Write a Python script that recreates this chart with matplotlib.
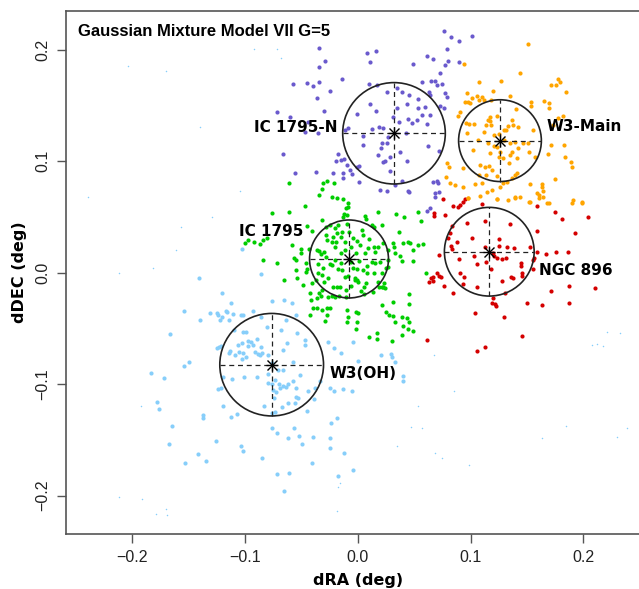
import numpy as np
import matplotlib
matplotlib.use("Agg")
import matplotlib.pyplot as plt
from matplotlib.patches import Ellipse

# ---------------- data ----------------
purple_pts = [(0.0767,0.2173),(0.0827,0.2119),(0.0900,0.2084),(0.1010,0.2128),(0.0789,0.2012),(0.0084,0.1970),(0.0164,0.1991),(0.0108,0.1892),(-0.0288,0.1901),(0.0492,0.1872),(0.0616,0.1946),(0.0670,0.1922),(0.0797,0.1901),(0.0773,0.1863),(0.0898,0.1895),(0.0732,0.1796),(-0.0143,0.1740),(0.0572,0.1710),(0.0649,0.1722),(0.0685,0.1722),(0.0700,0.1683),(0.0744,0.1695),(0.0102,0.1692),(0.0168,0.1686),(0.0350,0.1656),(-0.0247,0.1632),(0.0634,0.1626),(0.0640,0.1596),(0.0773,0.1611),(0.0789,0.1575),(0.0256,0.1623),(0.0389,0.1623),(0.0457,0.1596),(0.0531,0.1563),(-0.0010,0.1423),(0.0108,0.1518),(0.0159,0.1452),(0.0350,0.1479),(0.0434,0.1513),(-0.0300,0.1455),(0.0537,0.1477),(0.0596,0.1486),(0.0572,0.1417),(0.0640,0.1417),(0.0478,0.1347),(0.0443,0.1381),(0.0522,0.1372),(0.0611,0.1333),(0.0729,0.1497),(0.0767,0.1477),(-0.0084,0.1297),(-0.0114,0.1282),(0.0123,0.1291),(0.0191,0.1312),(0.0221,0.1297),(0.0368,0.1356),(0.0315,0.1401),(0.0428,0.1252),(0.0049,0.1228),(0.0271,0.1222),(0.0212,0.1168),(0.0262,0.1163),(0.0206,0.1118),(0.0374,0.1087),(0.0286,0.1042),(0.0182,0.1057),(0.0439,0.1004),(0.0241,0.1006),(0.0226,0.0992),(0.0049,0.1147),(0.0625,0.1138),(0.0720,0.1093),(-0.0178,0.1066),(-0.0152,0.1013),(-0.0120,0.1019),(-0.0193,0.1004),(-0.0010,0.0952),(0.0013,0.0959),(-0.0098,0.0968),(-0.0069,0.0923),(-0.0129,0.0893),(-0.0217,0.0899),(-0.0054,0.0884),(0.0286,0.0917),(0.0013,0.0812),(0.0389,0.0824),(0.0256,0.0734),(0.0448,0.0734),(0.0700,0.0824),(0.0714,0.0803),(0.0670,0.0818),(0.0685,0.0714),(0.0723,0.0728),(-0.0347,0.2018),(-0.0341,0.1850),(-0.0572,0.1695),(-0.0448,0.1704),(-0.0400,0.1677),(-0.0341,0.1716),(-0.0365,0.1572),(-0.0719,0.1446),(-0.0599,0.1401),(-0.0439,0.1356),(-0.0468,0.1264),(-0.0350,0.1252),(-0.0661,0.1066),(-0.0554,0.0899),(-0.0371,0.0902),(-0.0134,0.0854),(0.0197,0.0743),(0.0330,0.0788),(0.0611,0.0555),(0.0454,0.0728),(0.0685,0.0683),(0.0640,0.0579)]

orange_pts = [(0.1507,0.2054),(0.1439,0.1790),(0.1078,0.1715),(0.1268,0.1721),(0.1197,0.1632),(0.1350,0.1587),(0.0945,0.1874),(0.1779,0.1736),(0.1794,0.1715),(0.1755,0.1686),(0.1714,0.1686),(0.1844,0.1620),(0.0966,0.1611),(0.0951,0.1536),(0.0981,0.1536),(0.1010,0.1566),(0.0996,0.1521),(0.1061,0.1587),(0.1099,0.1575),(0.1078,0.1551),(0.1120,0.1551),(0.1182,0.1551),(0.1537,0.1536),(0.1537,0.1497),(0.1652,0.1542),(0.1696,0.1521),(0.1696,0.1476),(0.1404,0.1467),(0.1232,0.1407),(0.1173,0.1401),(0.1152,0.1371),(0.1173,0.1362),(0.1182,0.1327),(0.1137,0.1327),(0.1336,0.1318),(0.0907,0.1446),(0.0886,0.1410),(0.0960,0.1341),(0.0990,0.1332),(0.1034,0.1332),(0.1380,0.1327),(0.1424,0.1312),(0.1365,0.1371),(0.1315,0.1282),(0.1557,0.1282),(0.1818,0.1410),(0.1779,0.1386),(0.1729,0.1327),(0.0966,0.1252),(0.1123,0.1267),(0.1208,0.1237),(0.1256,0.1243),(0.1300,0.1282),(0.1300,0.1192),(0.1069,0.1192),(0.1158,0.1168),(0.1208,0.1138),(0.1173,0.1072),(0.1238,0.1132),(0.1262,0.1087),(0.1350,0.1168),(0.1395,0.1177),(0.1424,0.1117),(0.1365,0.1087),(0.1469,0.1168),(0.1513,0.1168),(0.1350,0.1057),(0.1410,0.1027),(0.1522,0.1087),(0.1572,0.1042),(0.1714,0.1147),(0.1832,0.1147),(0.1838,0.1042),(0.1892,0.0991),(0.1903,0.0952),(0.1685,0.1066),(0.1256,0.1042),(0.1285,0.1027),(0.1345,0.0982),(0.1025,0.1102),(0.1084,0.0967),(0.1129,0.0952),(0.1167,0.0961),(0.1188,0.0923),(0.1137,0.0878),(0.1078,0.0878),(0.1238,0.0872),(0.1410,0.0893),(0.1395,0.0878),(0.1365,0.0848),(0.1291,0.0803),(0.0936,0.0937),(0.0789,0.0982),(0.0812,0.0952),(0.0783,0.0863),(0.0818,0.0803),(0.0862,0.0788),(0.0936,0.0773),(0.1040,0.0794),(0.1099,0.0803),(0.1143,0.0728),(0.1188,0.0743),(0.1262,0.0773),(0.1321,0.0818),(0.1232,0.0662),(0.1336,0.0653),(0.1395,0.0668),(0.1439,0.0683),(0.1528,0.0797),(0.1631,0.0797),(0.1637,0.0767),(0.1646,0.0737),(0.1587,0.0713),(0.1608,0.0668),(0.1646,0.0683),(0.1676,0.0623),(0.1750,0.0839),(0.1906,0.0653),(0.1992,0.0632),(0.1528,0.0638),(0.0981,0.0674),(0.1521,0.0633),(0.1699,0.0624),(0.1897,0.0629),(0.1986,0.0629),(0.0980,0.0669),(0.1084,0.0689),(0.1232,0.0660),(0.1394,0.0678),(0.1610,0.0700)]

red_pts = [(0.0758,0.0659),(0.0841,0.0599),(0.0891,0.0587),(0.0906,0.0608),(0.0936,0.0638),(0.0951,0.0659),(0.1098,0.0617),(0.0676,0.0540),(0.0679,0.0510),(0.0773,0.0519),(0.0965,0.0444),(0.1128,0.0468),(0.1350,0.0438),(0.0832,0.0420),(0.1586,0.0599),(0.1749,0.0549),(0.1808,0.0480),(0.2045,0.0504),(0.1926,0.0354),(0.1592,0.0378),(0.1010,0.0315),(0.0883,0.0279),(0.0818,0.0354),(0.0803,0.0309),(0.0823,0.0240),(0.0832,0.0210),(0.0723,0.0160),(0.0900,0.0124),(0.1030,0.0151),(0.1060,0.0079),(0.1137,0.0100),(0.1128,0.0234),(0.1196,0.0180),(0.1252,0.0300),(0.1255,0.0240),(0.1326,0.0234),(0.1385,0.0219),(0.1527,0.0228),(0.1208,0.0151),(0.1237,0.0130),(0.1282,0.0124),(0.1314,0.0130),(0.1184,0.0031),(0.1444,0.0085),(0.1447,0.0061),(0.1551,0.0115),(0.1566,0.0130),(0.1586,0.0189),(0.1669,0.0169),(0.1755,0.0183),(0.1861,0.0183),(0.1557,0.0031),(0.0906,-0.0005),(0.0945,-0.0041),(0.0767,-0.0116),(0.0847,-0.0179),(0.0936,-0.0101),(0.1060,-0.0125),(0.1276,-0.0074),(0.1356,-0.0035),(0.1379,-0.0050),(0.1453,-0.0005),(0.1459,-0.0026),(0.0705,-0.0005),(0.0723,-0.0029),(0.0735,-0.0041),(0.0670,-0.0041),(0.0646,-0.0050),(0.0634,-0.0080),(0.0664,-0.0074),(0.1714,-0.0164),(0.1876,-0.0116),(0.2104,-0.0140),(0.1202,-0.0229),(0.1187,-0.0274),(0.1217,-0.0280),(0.1226,-0.0298),(0.1305,-0.0179),(0.1498,-0.0268),(0.1631,-0.0289),(0.1873,-0.0268),(0.1039,-0.0358),(0.1300,-0.0400),(0.1453,-0.0565),(0.1128,-0.0669),(0.1054,-0.0699),(0.0611,-0.0603)]

green_pts = [(-0.0341,0.0698),(-0.0225,0.0677),(-0.0181,0.0668),(-0.0128,0.0659),(-0.0089,0.0629),(-0.0104,0.0578),(-0.0084,0.0587),(-0.0122,0.0528),(-0.0098,0.0519),(-0.0134,0.0504),(-0.0468,0.0599),(-0.0758,0.0540),(-0.0610,0.0543),(0.0064,0.0510),(0.0073,0.0480),(0.0183,0.0548),(0.0336,0.0528),(0.0413,0.0504),(0.0532,0.0548),(-0.0320,0.0474),(-0.0453,0.0420),(-0.0409,0.0378),(-0.0282,0.0414),(-0.0246,0.0429),(-0.0202,0.0399),(-0.0172,0.0429),(-0.0181,0.0354),(-0.0143,0.0369),(-0.0217,0.0324),(-0.0270,0.0294),(-0.0231,0.0279),(-0.0196,0.0279),(-0.0149,0.0324),(-0.0113,0.0279),(-0.0039,0.0309),(-0.0004,0.0288),(0.0035,0.0384),(0.0044,0.0339),(0.0123,0.0429),(0.0144,0.0414),(0.0212,0.0429),(0.0020,0.0249),(0.0094,0.0219),(0.0064,0.0175),(0.0144,0.0234),(0.0183,0.0234),(0.0227,0.0264),(0.0316,0.0270),(0.0322,0.0234),(0.0330,0.0175),(0.0366,0.0363),(0.0404,0.0264),(0.0449,0.0279),(0.0464,0.0264),(0.0493,0.0204),(0.0532,0.0249),(0.0375,0.0154),(0.0395,0.0109),(0.0487,0.0109),(0.0265,0.0115),(0.0271,0.0049),(0.0251,0.0040),(0.0197,0.0100),(0.0153,0.0091),(0.0123,0.0100),(0.0233,-0.0095),(0.0221,-0.0131),(0.0191,-0.0131),(0.0212,-0.0005),(0.0144,-0.0005),(0.0085,-0.0005),(0.0050,0.0025),(0.0011,0.0109),(-0.0010,0.0031),(-0.0039,0.0040),(-0.0063,0.0100),(0.0005,-0.0080),(-0.0024,-0.0065),(-0.0084,-0.0029),(-0.0143,0.0025),(-0.0172,0.0031),(-0.0225,0.0070),(-0.0202,0.0115),(-0.0282,0.0145),(-0.0329,0.0169),(-0.0299,0.0189),(-0.0341,0.0195),(-0.0364,0.0204),(-0.0432,0.0210),(-0.0503,0.0210),(-0.0503,0.0175),(-0.0566,0.0130),(-0.0548,0.0115),(-0.0459,0.0085),(-0.0447,0.0037),(-0.0459,0.0010),(-0.0548,0.0025),(-0.0536,-0.0050),(-0.0651,-0.0065),(-0.0713,0.0091),(-0.0838,0.0115),(-0.1000,0.0264),(-0.0971,0.0294),(-0.0920,0.0279),(-0.0867,0.0258),(-0.0838,0.0294),(-0.0808,0.0309),(-0.0580,0.0249),(-0.0489,-0.0110),(-0.0409,-0.0089),(-0.0370,-0.0065),(-0.0350,-0.0005),(-0.0320,-0.0020),(-0.0305,0.0046),(-0.0261,-0.0044),(-0.0217,-0.0125),(-0.0187,-0.0125),(-0.0157,-0.0125),(-0.0104,-0.0155),(-0.0024,-0.0050),(-0.0004,-0.0065),(-0.0113,-0.0035),(0.0055,-0.0131),(0.0073,-0.0095),(0.0058,-0.0194),(0.0138,-0.0170),(0.0212,-0.0125),(0.0242,-0.0140),(-0.0320,-0.0155),(-0.0344,-0.0185),(-0.0329,-0.0206),(-0.0261,-0.0214),(-0.0231,-0.0208),(-0.0202,-0.0220),(-0.0166,-0.0208),(-0.0104,-0.0214),(-0.0424,-0.0185),(-0.0415,-0.0244),(-0.0364,-0.0229),(-0.0394,-0.0319),(-0.0424,-0.0379),(-0.0359,-0.0319),(-0.0320,-0.0334),(-0.0276,-0.0319),(-0.0270,-0.0379),(-0.0291,-0.0430),(-0.0246,-0.0319),(-0.0092,-0.0334),(-0.0089,-0.0394),(-0.0016,-0.0349),(0.0005,-0.0358),(-0.0098,-0.0439),(-0.0010,-0.0439),(-0.0016,-0.0508),(0.0100,-0.0573),(0.0168,-0.0544),(0.0212,-0.0289),(0.0251,-0.0349),(0.0280,-0.0379),(0.0310,-0.0388),(0.0330,-0.0439),(0.0168,-0.0597),(0.0390,-0.0394),(0.0434,-0.0409),(0.0458,-0.0439),(0.0404,-0.0478),(0.0390,-0.0558),(0.0301,-0.0609),(0.0449,-0.0508),(0.0487,-0.0520),(0.0458,-0.0194),(0.0455,-0.0280),(0.0316,-0.0259),(-0.0613,0.0809),(-0.0306,0.0803),(-0.0276,0.0827),(-0.0211,0.0809),(-0.0320,0.0750),(0.0558,0.0468),(0.0581,0.0259),(0.0605,-0.0004),(-0.0150,0.0180),(-0.0110,0.0200),(-0.0060,0.0230),(-0.0020,0.0180),(-0.0200,0.0230),(-0.0250,0.0080),(-0.0150,0.0090),(0.0080,0.0060),(0.0150,0.0190),(-0.0060,-0.0120),(0.0030,-0.0160),(-0.0280,0.0340),(-0.0080,0.0370),(0.0100,0.0300),(0.0180,-0.0080),(-0.0350,0.0080),(-0.0300,-0.0080),(-0.0100,0.0440),(0.0270,0.0200)]

blue_pts = [(-0.1207,-0.0179),(-0.0764,-0.0251),(-0.0654,-0.0245),(-0.0580,-0.0268),(-0.1127,-0.0274),(-0.1538,-0.0340),(-0.1399,-0.0424),(-0.1311,-0.0358),(-0.1251,-0.0364),(-0.1243,-0.0379),(-0.1222,-0.0424),(-0.1207,-0.0400),(-0.1169,-0.0340),(-0.1163,-0.0355),(-0.1139,-0.0424),(-0.1110,-0.0373),(-0.1039,-0.0379),(-0.1015,-0.0379),(-0.0926,-0.0340),(-0.0858,-0.0394),(-0.0639,-0.0424),(-0.0548,-0.0379),(-0.0802,-0.0484),(-0.0681,-0.0514),(-0.0536,-0.0538),(-0.1665,-0.0550),(-0.1095,-0.0514),(-0.1015,-0.0535),(-0.0991,-0.0535),(-0.0897,-0.0598),(-0.0971,-0.0610),(-0.0947,-0.0619),(-0.0932,-0.0651),(-0.0976,-0.0657),(-0.1030,-0.0634),(-0.1059,-0.0651),(-0.1251,-0.0678),(-0.1231,-0.0663),(-0.1213,-0.0657),(-0.1133,-0.0699),(-0.1139,-0.0717),(-0.1089,-0.0735),(-0.1053,-0.0708),(-0.1015,-0.0723),(-0.0991,-0.0759),(-0.1027,-0.0771),(-0.0911,-0.0708),(-0.0882,-0.0729),(-0.0867,-0.0738),(-0.0852,-0.0717),(-0.0858,-0.0669),(-0.0799,-0.0738),(-0.0630,-0.0634),(-0.0666,-0.0693),(-0.0468,-0.0604),(-0.0468,-0.0648),(-0.0261,-0.0619),(-0.0211,-0.0678),(-0.0148,-0.0723),(-0.0571,-0.0798),(-0.1497,-0.0798),(-0.1538,-0.0837),(-0.1837,-0.0903),(-0.1716,-0.0942),(-0.1192,-0.0939),(-0.1118,-0.0957),(-0.1006,-0.0939),(-0.0897,-0.0933),(-0.0799,-0.0912),(-0.0758,-0.0813),(-0.0704,-0.0873),(-0.0666,-0.0873),(-0.0734,-0.0963),(-0.0793,-0.0987),(-0.0764,-0.0999),(-0.0696,-0.0999),(-0.0660,-0.1016),(-0.0690,-0.1037),(-0.0639,-0.1028),(-0.0616,-0.0999),(-0.0577,-0.0969),(-0.0512,-0.0918),(-0.0548,-0.1037),(-0.0438,-0.1058),(-0.0379,-0.1037),(-0.0335,-0.0969),(-0.0246,-0.1037),(-0.0211,-0.1061),(-0.0128,-0.1040),(-0.1243,-0.1040),(-0.1213,-0.1037),(-0.0749,-0.1052),(-0.0728,-0.1073),(-0.0740,-0.1127),(-0.0548,-0.1118),(-0.0527,-0.1127),(-0.0388,-0.1133),(-0.0557,-0.1172),(-0.0675,-0.1202),(-0.0829,-0.1196),(-0.1192,-0.1196),(-0.1784,-0.1160),(-0.1760,-0.1226),(-0.1370,-0.1277),(-0.1376,-0.1307),(-0.1068,-0.1268),(-0.1127,-0.1292),(-0.0764,-0.1256),(-0.0731,-0.1253),(-0.0619,-0.1172),(-0.0447,-0.1238),(-0.0187,-0.1307),(-0.0240,-0.1346),(-0.1651,-0.1376),(-0.1674,-0.1540),(-0.1420,-0.1627),(-0.1532,-0.1705),(-0.1346,-0.1690),(-0.1257,-0.1510),(-0.1039,-0.1555),(-0.1015,-0.1603),(-0.0852,-0.1666),(-0.0764,-0.1390),(-0.0719,-0.1435),(-0.0616,-0.1486),(-0.0562,-0.1390),(-0.0521,-0.1465),(-0.0497,-0.1540),(-0.0400,-0.1477),(-0.0246,-0.1486),(-0.0246,-0.1576),(-0.0122,-0.1615),(-0.0403,-0.1705),(-0.0719,-0.1806),(-0.0610,-0.1800),(-0.0654,-0.1959),(-0.0172,-0.1824),(-0.1030,0.0211),(-0.0859,-0.0013),(-0.1406,-0.0044),(-0.0040,-0.0619),(0.0004,-0.0792),(0.0206,-0.0738),(0.0292,-0.0729),(0.0301,-0.0753),(0.0330,-0.0803),(0.0404,-0.0924),(0.0404,-0.0969),(-0.0054,-0.1058),(-0.0045,-0.1770)]

noise_pts = [(-0.0921,0.2006),(-0.0714,0.2006),(-0.0681,0.1926),(-0.2036,0.1859),(-0.1701,0.1812),(-0.1400,0.1306),(-0.2396,0.0678),(-0.1045,0.0734),(-0.1291,0.0504),(-0.1571,0.0408),(-0.1613,0.0205),(-0.1819,0.0040),(-0.2115,-0.0004),(-0.1926,-0.1196),(-0.2115,-0.2010),(-0.1917,-0.2031),(-0.1704,-0.2120),(-0.1793,-0.2168),(-0.1695,-0.2174),(-0.0158,-0.1884),(-0.0173,-0.1920),(0.0537,-0.1196),(0.0472,-0.1387),(0.0572,-0.1391),(0.0348,-0.1555),(0.0685,-0.1615),(0.0744,-0.1665),(0.0989,-0.1725),(-0.0187,-0.2138),(0.1631,-0.1486),(0.1844,-0.1373),(0.2302,-0.1471),(0.2390,-0.1396),(0.0679,-0.0738),(0.0856,-0.1058),(0.2208,-0.0529),(0.2326,-0.0543),(0.2080,-0.0648),(0.2119,-0.0642),(0.2178,-0.0657)]

cluster_names = ["IC 1795-N", "W3-Main", "NGC 896", "IC 1795", "W3(OH)"]
center_x = [0.0321, 0.1261, 0.1166, -0.0078, -0.0764]
center_y = [0.1252, 0.1186, 0.0189, 0.0124, -0.0825]
radius = [0.0455, 0.0367, 0.0398, 0.0350, 0.0460]
label_x = [-0.0184, 0.1676, 0.1610, -0.1054, -0.0247]
label_y = [0.1300, 0.1312, 0.0016, 0.0375, -0.0902]
label_ha = ["right", "left", "left", "left", "left"]

x_ticks = [-0.2, -0.1, 0.0, 0.1, 0.2]
x_tick_labels = ["\u22120.2", "\u22120.1", "0.0", "0.1", "0.2"]
y_ticks = [-0.2, -0.1, 0.0, 0.1, 0.2]
y_tick_labels = ["\u22120.2", "\u22120.1", "0.0", "0.1", "0.2"]

title = "Gaussian Mixture Model VII G=5"

# ---------------- plot ----------------
fig = plt.figure(figsize=(6.39, 5.89), dpi=100)
ax = fig.add_axes([0.1033, 0.0939, 0.9133, 0.8869])
ax.set_xlim(-0.2588, 0.2588)
ax.set_ylim(-0.2342, 0.2347)

ms = 9
for pts, col in [(noise_pts, None), (blue_pts, "#87CEFA"), (green_pts, "#00CD00"),
                 (red_pts, "#D40000"), (orange_pts, "#FFA500"), (purple_pts, "#6A5ACD")]:
    a = np.array(pts)
    if col is None:
        ax.scatter(a[:, 0], a[:, 1], s=1.2, color="#87CEFA", linewidths=0, zorder=2)
    else:
        ax.scatter(a[:, 0], a[:, 1], s=ms, color=col, linewidths=0, zorder=3)

for cx, cy, r in zip(center_x, center_y, radius):
    ax.add_patch(Ellipse((cx, cy), 2 * r, 2 * r, fill=False, lw=1.2,
                         edgecolor="#222222", zorder=5))
    ax.plot([cx - r, cx + r], [cy, cy], color="#222222", lw=0.9,
            dashes=(4, 3), zorder=5)
    ax.plot([cx, cx], [cy - r, cy + r], color="#222222", lw=0.9,
            dashes=(4, 3), zorder=5)
    ax.plot([cx], [cy], marker="+", ms=9, mew=1.0, color="black", zorder=6)
    ax.plot([cx], [cy], marker="x", ms=6.5, mew=1.0, color="black", zorder=6)

for name, lx, ly, ha in zip(cluster_names, label_x, label_y, label_ha):
    ax.text(lx, ly, name, ha=ha, va="center", fontsize=11, fontweight="bold",
            family="DejaVu Sans", zorder=7)

ax.text(0.02, 0.975, title, transform=ax.transAxes, ha="left", va="top",
        fontsize=12, fontweight="bold", family="Liberation Sans")

ax.set_xticks(x_ticks)
ax.set_xticklabels(x_tick_labels, family="Liberation Sans", fontsize=11.5, color="#222222")
ax.set_yticks(y_ticks)
ax.set_yticklabels(y_tick_labels, family="Liberation Sans", fontsize=11.5,
                   rotation=90, va="center", color="#222222")
ax.tick_params(axis="both", direction="out", length=6.5, width=1.0,
               color="#555555", pad=5)

for sp in ax.spines.values():
    sp.set_color("#555555")
    sp.set_linewidth(1.2)

ax.set_xlabel("dRA (deg)", fontsize=11.5, fontweight="bold", family="DejaVu Sans",
              labelpad=6)
ax.set_ylabel("dDEC (deg)", fontsize=11.5, fontweight="bold", family="DejaVu Sans",
              labelpad=6)

fig.savefig("out.png", dpi=100)
